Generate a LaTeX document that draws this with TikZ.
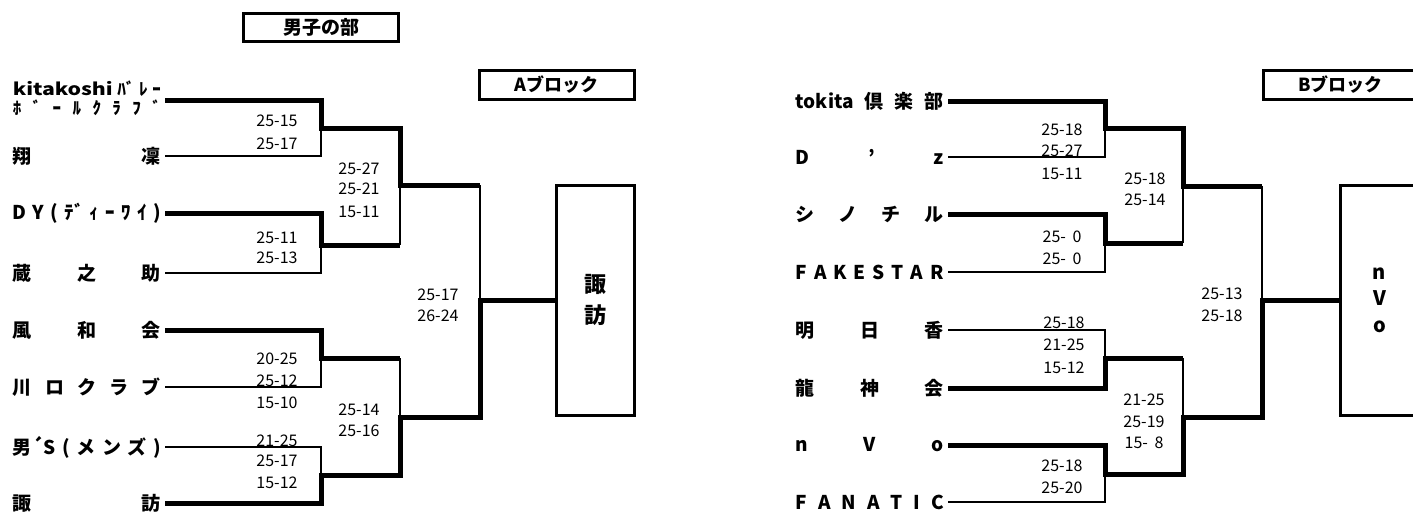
\documentclass[tikz,border=0pt]{standalone}
\usepackage{fontspec}
\usepackage{graphicx}
\setmainfont{Noto Sans CJK JP}
\newcommand{\spreadbox}[1]{\makebox[148pt][s]{#1}}
\begin{document}
\begin{tikzpicture}[x=1pt,y=-1pt,
  team/.style={anchor=east, inner xsep=4pt, inner ysep=0pt, font=\bfseries\fontsize{19}{21}\selectfont},
  score/.style={inner sep=0pt, font=\fontsize{16}{18}\selectfont},
  win/.style={line width=5pt},
  lose/.style={line width=1.5pt},
  frame/.style={draw, line width=3pt, inner sep=0pt},
  head/.style={frame, minimum width=155pt, minimum height=29pt, font=\bfseries\fontsize{18}{20}\selectfont},
  champ/.style={frame, minimum width=78pt, minimum height=230pt, align=center}]
\useasboundingbox (0,0) rectangle (1413,512);

% headers
\node[head, minimum height=28pt, font=\bfseries\fontsize{19}{21}\selectfont] (title) at (321,27.5) {男子の部};
\node[head] (hA) at (556.5,85) {Aブロック};
\node[head] (hB) at (1340.5,85) {Bブロック};

% champion boxes
\node[champ, font=\bfseries\fontsize{22}{31}\selectfont] (boxA) at (595.5,300) {諏\\訪};
\node[champ, font=\bfseries\fontsize{20}{26.5}\selectfont] (boxB) at (1379.5,300) {n\\V\\o};

% ---------- A block teams ----------
\node[team, align=left, font=\bfseries\fontsize{17}{19}\selectfont] (L1) at (165,98)
  {\spreadbox{\scalebox{1.25}[1]{kitakoshi}\hfill ﾊﾞ\hfill ﾚ\hfill ｰ}\\ \spreadbox{ﾎ\hfill ﾞ\hfill ｰ\hfill ﾙ\hfill ｸ\hfill ﾗ\hfill ﾌ\hfill ﾞ}};
\node[team] (L2) at (165,156) {\spreadbox{翔\hfill 凜}};
\node[team] (L3) at (165,213) {\spreadbox{D\hfill Y\hfill (\hfill ﾃﾞ\hfill ｨ\hfill ｰ\hfill ﾜ\hfill ｲ\hfill )}};
\node[team] (L4) at (165,273) {\spreadbox{蔵\hfill 之\hfill 助}};
\node[team] (L5) at (165,330) {\spreadbox{風\hfill 和\hfill 会}};
\node[team] (L6) at (165,387) {\spreadbox{川\hfill ロ\hfill ク\hfill ラ\hfill ブ}};
\node[team] (L7) at (165,447) {\spreadbox{男´S\hfill (\hfill メ\hfill ン\hfill ズ\hfill )}};
\node[team] (L8) at (165,503) {\spreadbox{諏\hfill 訪}};

\coordinate (k100) at (0,100);
\coordinate (am1) at (321,128);
\coordinate (am2) at (321,245);
\coordinate (am3) at (321,358);
\coordinate (am4) at (321,475);
\coordinate (as1) at (400,185);
\coordinate (as2) at (400,417);
\coordinate (af) at (480,300);

\draw[win] (L1.east |- k100) -| (am1) -| (as1) -- (as1 -| af);
\draw[lose] (as1 -| af) -- (af);
\draw[lose] (L2.east) -| (am1);
\draw[win] (L3.east) -| (am2) -- (am2 -| as1);
\draw[lose] (am2 -| as1) -- (as1);
\draw[lose] (L4.east) -| (am2);
\draw[win] (L5.east) -| (am3) -- (am3 -| as2);
\draw[lose] (am3 -| as2) -- (as2);
\draw[lose] (L6.east) -| (am3);
\draw[lose] (L7.east) -| (am4);
\draw[win] (L8.east) -| (am4) -| (as2) -| (af) -- (boxA.west);

% A scores
\node[score] (a1) at (277,121) {25-15};
\node[score] (a2) at (277,144) {25-17};
\node[score] (a3) at (359,169) {25-27};
\node[score] (a4) at (359,189) {25-21};
\node[score] (a5) at (359,212) {15-11};
\node[score] (a6) at (277,237.5) {25-11};
\node[score] (a7) at (277,258) {25-13};
\node[score] (a8) at (438,294.5) {25-17};
\node[score] (a9) at (438,315.5) {26-24};
\node[score] (a10) at (277,359) {20-25};
\node[score] (a11) at (277,381) {25-12};
\node[score] (a12) at (277,403) {15-10};
\node[score] (a13) at (359,410) {25-14};
\node[score] (a14) at (359,431) {25-16};
\node[score] (a15) at (277,441) {21-25};
\node[score] (a16) at (277,461) {25-17};
\node[score] (a17) at (277,483) {15-12};

% ---------- B block teams ----------
\node[team] (R1) at (948,101) {\spreadbox{tokita\hfill 倶\hfill 楽\hfill 部}};
\node[team] (R2) at (948,157) {\spreadbox{D\hfill '\hfill z}};
\node[team] (R3) at (948,214) {\spreadbox{シ\hfill ノ\hfill チ\hfill ル}};
\node[team] (R4) at (948,272) {\spreadbox{F\hfill A\hfill K\hfill E\hfill S\hfill T\hfill A\hfill R}};
\node[team] (R5) at (948,330) {\spreadbox{明\hfill 日\hfill 香}};
\node[team] (R6) at (948,388) {\spreadbox{龍\hfill 神\hfill 会}};
\node[team] (R7) at (948,445) {\spreadbox{n\hfill V\hfill o}};
\node[team] (R8) at (948,502) {\spreadbox{F\hfill A\hfill N\hfill A\hfill T\hfill I\hfill C}};

\coordinate (bm1) at (1105,128);
\coordinate (bm2) at (1105,243);
\coordinate (bm3) at (1105,358);
\coordinate (bm4) at (1105,474);
\coordinate (bs1) at (1183,186);
\coordinate (bs2) at (1183,417);
\coordinate (bf) at (1262,300);

\draw[win] (R1.east) -| (bm1) -| (bs1) -- (bs1 -| bf);
\draw[lose] (bs1 -| bf) -- (bf);
\draw[lose] (R2.east) -| (bm1);
\draw[win] (R3.east) -| (bm2) -- (bm2 -| bs1);
\draw[lose] (bm2 -| bs1) -- (bs1);
\draw[lose] (R4.east) -| (bm2);
\draw[lose] (R5.east) -| (bm3);
\draw[win] (R6.east) -| (bm3) -- (bm3 -| bs2);
\draw[lose] (bm3 -| bs2) -- (bs2);
\draw[win] (R7.east) -| (bm4) -| (bs2) -| (bf) -- (boxB.west);
\draw[lose] (R8.east) -| (bm4);

% B scores
\node[score] (b1) at (1062,130) {25-18};
\node[score] (b2) at (1062,151) {25-27};
\node[score] (b3) at (1062,174) {15-11};
\node[score] (b4) at (1145,179) {25-18};
\node[score] (b5) at (1145,200) {25-14};
\node[score] (b6) at (1062,237) {25- \kern3pt 0};
\node[score] (b7) at (1062,259) {25- \kern3pt 0};
\node[score] (b8) at (1222,294) {25-13};
\node[score] (b9) at (1222,316) {25-18};
\node[score] (b10) at (1064,323) {25-18};
\node[score] (b11) at (1064,345) {21-25};
\node[score] (b12) at (1064,368) {15-12};
\node[score] (b13) at (1144,400) {21-25};
\node[score] (b14) at (1144,422) {25-19};
\node[score] (b15) at (1144,443) {15- \kern3pt 8};
\node[score] (b16) at (1062,466) {25-18};
\node[score] (b17) at (1062,488) {25-20};
\end{tikzpicture}
\end{document}
